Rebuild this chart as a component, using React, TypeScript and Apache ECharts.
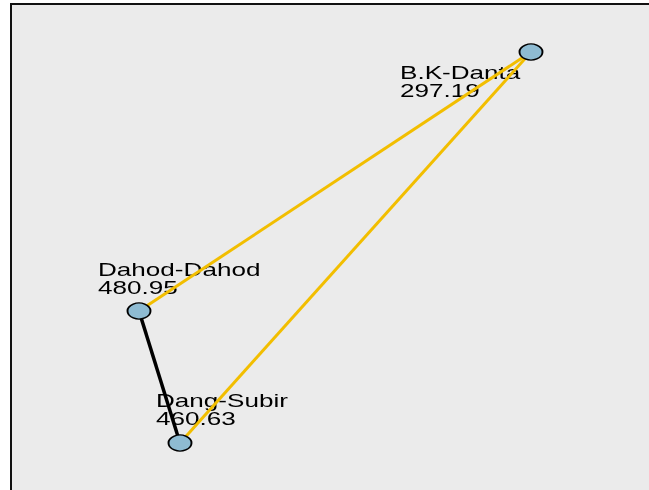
import React, { useEffect, useRef } from "react";
import * as echarts from "echarts";

// Node data (layout coordinates in plot units)
const nodeNames = ["B.K-Danta", "Dahod-Dahod", "Dang-Subir"];
const nodeValues = [297.19, 480.95, 460.63];
const nodeX = [531, 139, 180];
const nodeY = [438, 179, 47];

// Edges between nodes (index into node arrays)
const edgeFrom = [1, 2, 1];
const edgeTo = [0, 0, 2];
const edgeKinds = ["yellow", "yellow", "black"];

export default function App() {
  const ref = useRef<HTMLDivElement>(null);

  useEffect(() => {
    if (!ref.current) return;
    const chart = echarts.init(ref.current, null, { renderer: "svg" });

    const edgeColor: Record<string, string> = { yellow: "#F2BE00", black: "#000000" };
    const edgeWidth: Record<string, number> = { yellow: 3, black: 3.5 };
    const labelOffsets = [
      [-131, 27],
      [-41, -35],
      [-24, -36],
    ];

    chart.setOption({
      animation: false,
      grid: { left: 0, top: 0, right: 0, bottom: 0, show: false },
      xAxis: { type: "value", min: 0, max: 649, show: false },
      yAxis: { type: "value", min: 0, max: 490, show: false },
      series: [
        {
          type: "lines",
          coordinateSystem: "cartesian2d",
          z: 3,
          lineStyle: { opacity: 1 },
          data: edgeFrom.map((f, i) => ({
            coords: [
              [nodeX[f], nodeY[f]],
              [nodeX[edgeTo[i]], nodeY[edgeTo[i]]],
            ],
            lineStyle: {
              color: edgeColor[edgeKinds[i]],
              width: edgeWidth[edgeKinds[i]],
              opacity: 1,
            },
          })),
        },
        {
          type: "scatter",
          z: 4,
          symbol: "circle",
          symbolSize: [23, 16],
          itemStyle: {
            color: "#8EBBD2",
            borderColor: "#000000",
            borderWidth: 1.6,
            opacity: 1,
          },
          data: nodeX.map((x, i) => [x, nodeY[i]]),
        },
      ],
    });

    const labels = nodeNames.map((name, i) => {
      const p = chart.convertToPixel({ gridIndex: 0 }, [nodeX[i], nodeY[i]]) as number[];
      return {
        type: "text",
        x: p[0] + labelOffsets[i][0],
        y: p[1] + labelOffsets[i][1] - 15,
        scaleX: 1.45,
        z: 1,
        style: {
          text: name + "\n" + nodeValues[i].toFixed(2),
          font: '18px "Liberation Sans"',
          fill: "#000000",
          lineHeight: 18,
          verticalAlign: "top",
          align: "left",
        },
      };
    });
    chart.setOption({
      graphic: [
        {
          type: "rect",
          z: 0,
          shape: { x: 11, y: 4, width: 700, height: 600 },
          style: { fill: "#EBEBEB", stroke: "#111111", lineWidth: 2 },
        },
        ...labels,
      ],
    });

    return () => chart.dispose();
  }, []);

  return (
    <div
      ref={ref}
      style={{ position: "fixed", left: 0, top: 0, width: 649, height: 490 }}
    />
  );
}
